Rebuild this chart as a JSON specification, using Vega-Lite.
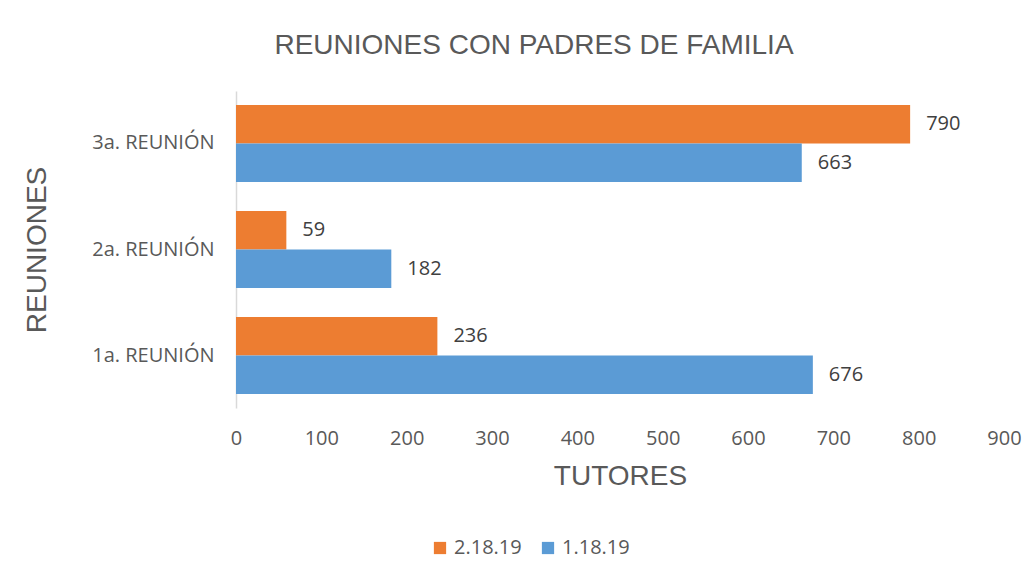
{
  "$schema": "https://vega.github.io/schema/vega-lite/v6.json",
  "autosize": "none",
  "width": 768,
  "height": 317,
  "padding": {"left": 236, "top": 91, "right": 30, "bottom": 176},
  "background": "white",
  "title": {
    "text": "REUNIONES CON PADRES DE FAMILIA",
    "font": "Liberation Sans",
    "fontSize": 28,
    "fontWeight": "normal",
    "color": "#595959",
    "anchor": "middle",
    "dx": -86,
    "offset": 31
  },
  "data": {
    "values": [
      {"reunion": "3a. REUNIÓN", "serie": "2.18.19", "valor": 790},
      {"reunion": "3a. REUNIÓN", "serie": "1.18.19", "valor": 663},
      {"reunion": "2a. REUNIÓN", "serie": "2.18.19", "valor": 59},
      {"reunion": "2a. REUNIÓN", "serie": "1.18.19", "valor": 182},
      {"reunion": "1a. REUNIÓN", "serie": "2.18.19", "valor": 236},
      {"reunion": "1a. REUNIÓN", "serie": "1.18.19", "valor": 676}
    ]
  },
  "encoding": {
    "y": {
      "field": "reunion",
      "type": "nominal",
      "sort": ["3a. REUNIÓN", "2a. REUNIÓN", "1a. REUNIÓN"],
      "scale": {"paddingInner": 0.274, "paddingOuter": 0.132},
      "axis": {
        "title": "REUNIONES",
        "titleFont": "Liberation Sans",
        "titleFontSize": 28,
        "titleFontWeight": "normal",
        "titleColor": "#595959",
        "titlePadding": 40,
        "labelFont": "Open Sans",
        "labelFontSize": 20,
        "labelColor": "#595959",
        "labelPadding": 22,
        "ticks": false,
        "domainColor": "#d9d9d9",
        "domainWidth": 1.5
      }
    },
    "x": {
      "field": "valor",
      "type": "quantitative",
      "scale": {"domain": [0, 900], "nice": false},
      "axis": {
        "title": "TUTORES",
        "titleFont": "Liberation Sans",
        "titleFontSize": 28,
        "titleFontWeight": "normal",
        "titleColor": "#595959",
        "titlePadding": 14,
        "values": [0, 100, 200, 300, 400, 500, 600, 700, 800, 900],
        "labelFont": "Open Sans",
        "labelFontSize": 20,
        "labelColor": "#595959",
        "labelPadding": 20,
        "labelFlush": false,
        "labelOverlap": false,
        "ticks": false,
        "domain": false,
        "grid": false
      }
    },
    "yOffset": {
      "field": "serie",
      "type": "nominal",
      "sort": ["2.18.19", "1.18.19"]
    }
  },
  "layer": [
    {
      "mark": {"type": "bar"},
      "encoding": {
        "color": {
          "field": "serie",
          "type": "nominal",
          "sort": ["2.18.19", "1.18.19"],
          "scale": {"domain": ["2.18.19", "1.18.19"], "range": ["#ED7D31", "#5B9BD5"]},
          "legend": {
            "title": null,
            "orient": "none",
            "direction": "horizontal",
            "legendX": 194,
            "legendY": 447,
            "symbolType": "square",
            "symbolSize": 150,
            "symbolStrokeWidth": 0,
            "labelFont": "Open Sans",
            "labelFontSize": 20,
            "labelColor": "#595959",
            "columnPadding": 16,
            "labelOffset": 4
          }
        }
      }
    },
    {
      "mark": {"type": "text", "align": "left", "baseline": "middle", "dx": 16, "font": "Open Sans", "fontSize": 20, "color": "#404040"},
      "encoding": {
        "text": {"field": "valor", "type": "quantitative"}
      }
    }
  ],
  "config": {
    "view": {"stroke": null}
  }
}
